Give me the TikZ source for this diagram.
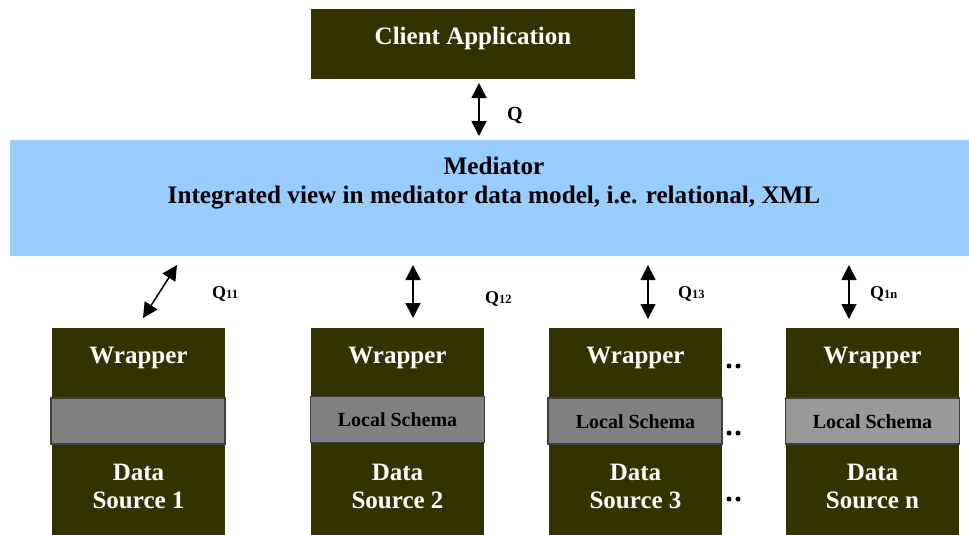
\documentclass[tikz,border=0pt]{standalone}
\usepackage{fontspec}
\setmainfont{Liberation Serif}
\usetikzlibrary{arrows.meta}
\definecolor{olive}{HTML}{333300}
\definecolor{medblue}{HTML}{99CCFF}
\definecolor{bandgray}{HTML}{808080}
\definecolor{bandlight}{HTML}{999999}
\definecolor{bandedge}{HTML}{404040}
\tikzset{
  darkbox/.style={fill=olive,draw=none,rectangle,inner sep=0pt},
  band/.style={fill=bandgray,draw=bandedge,line width=1.3pt,rectangle,inner sep=0pt,minimum width=174pt,minimum height=46pt},
  wtext/.style={text=white,font=\fontsize{25}{29}\selectfont\bfseries,anchor=base,inner sep=0pt},
  btext/.style={text=black,font=\fontsize{25.2}{29}\selectfont\bfseries,anchor=base,inner sep=0pt},
  lstext/.style={text=black,font=\fontsize{20}{23}\selectfont\bfseries,anchor=base,inner sep=0pt},
  qtext/.style={text=black,font=\fontsize{18}{21}\selectfont\bfseries,anchor=base west,inner sep=0pt},
  arr/.style={line width=1.5pt,{Triangle[length=15pt,width=15pt]}-{Triangle[length=15pt,width=15pt]}},
  dotc/.style={fill=black,draw=none,circle,inner sep=0pt,minimum size=5pt}
}
\begin{document}
\begin{tikzpicture}[x=1pt,y=-1pt]
\useasboundingbox (0,0) rectangle (969,535);
% client
\node[darkbox,minimum width=324pt,minimum height=70pt] (client) at (473,44) {};
\node[wtext] (clientt) at (473,45) {Client Application};
% mediator
\node[fill=medblue,draw=none,rectangle,inner sep=0pt,minimum width=962pt,minimum height=116pt] (med) at (491,198) {};
\node[btext] (medt1) at (494,174) {Mediator};
\node[btext] (medt2) at (494,203) {Integrated view in mediator data model, i.e. relational, XML};
% Q arrow
\coordinate (qa) at (479,83);
\coordinate (qb) at (479,136);
\draw[arr] (qa) -- (qb);
\node[qtext,font=\fontsize{20}{23}\selectfont\bfseries] (ql) at (507,120) {Q};
% columns
\foreach \n/\cx/\bx/\by/\bc/\lab/\src in {1/138.5/138/421/bandgray//1, 2/397.5/397.5/419.5/bandgray/Local Schema/2, 3/635.5/635/421/bandgray/Local Schema/3, n/872.5/872.5/421/bandlight/Local Schema/n}{
  \node[darkbox,minimum width=173pt,minimum height=207pt] (col\n) at (\cx,431.5) {};
  \node[band,fill=\bc] (band\n) at (\bx,\by) {};
  \node[lstext] (ls\n) at (\cx,\by+7) {\lab};
  \node[wtext] (wr\n) at (\cx,363) {Wrapper};
  \node[wtext] (da\n) at (\cx,480) {Data};
  \node[wtext] (so\n) at (\cx,508) {Source \src};
}
% connectors
\coordinate (a1t) at (177,265); \coordinate (a1b) at (143,318);
\coordinate (a2t) at (413,265); \coordinate (a2b) at (413,318);
\coordinate (a3t) at (648,265); \coordinate (a3b) at (648,319);
\coordinate (a4t) at (849,265); \coordinate (a4b) at (849,319);
\draw[arr] (a1t) -- (a1b);
\draw[arr] (a2t) -- (a2b);
\draw[arr] (a3t) -- (a3b);
\draw[arr] (a4t) -- (a4b);
\node[qtext] (q11) at (212,298) {Q{\fontsize{12.5}{13}\selectfont 11}};
\node[qtext] (q12) at (485,303) {Q{\fontsize{12.5}{13}\selectfont 12}};
\node[qtext] (q13) at (678,298) {Q{\fontsize{12.5}{13}\selectfont 13}};
\node[qtext] (q1n) at (870,298) {Q{\fontsize{12.5}{13}\selectfont 1n}};
% dots
\foreach \y/\k in {366/a,433/b,499/c}{
  \node[dotc] (d\k1) at (729,\y) {};
  \node[dotc] (d\k2) at (738,\y) {};
}
\end{tikzpicture}
\end{document}
